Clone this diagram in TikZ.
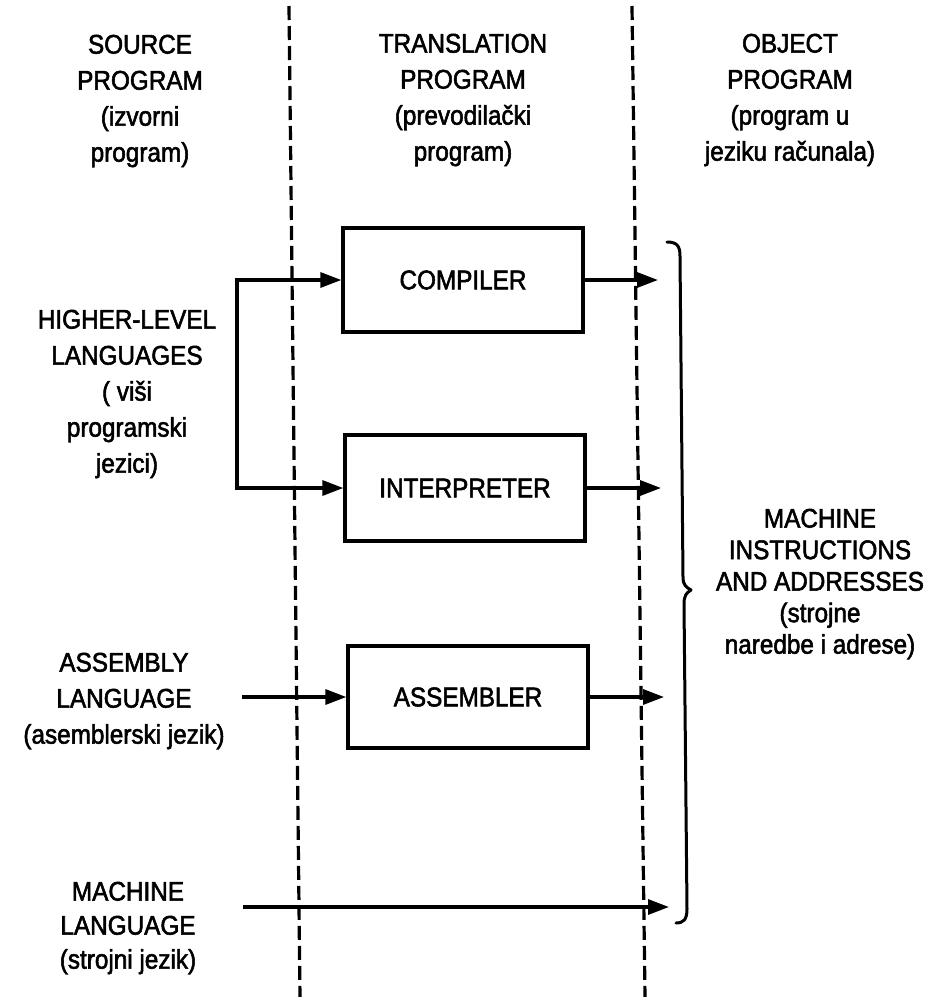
\documentclass[tikz,border=0pt]{standalone}
\usepackage{fontspec}
\setmainfont{Liberation Sans}[FakeStretch=0.9,FakeBold=2]
\usetikzlibrary{arrows.meta}
\begin{document}
\begin{tikzpicture}[x=1pt,y=-1pt,
  lbl/.style={align=center,inner sep=0pt,font=\fontsize{27}{36}\selectfont},
  blbl/.style={align=center,inner sep=0pt,font=\fontsize{27}{34}\selectfont},
  rlbl/.style={align=center,inner sep=0pt,font=\fontsize{27}{31.5}\selectfont},
  box/.style={draw,line width=3.3pt,minimum width=240pt,inner sep=0pt,font=\fontsize{27}{36}\selectfont},
  arr/.style={line width=3.2pt,-{Triangle[length=21pt,width=15pt]}},
  ln/.style={line width=3.2pt},
  sep/.style={line width=3.2pt,dash pattern=on 14pt off 6pt}]
\useasboundingbox (0,0) rectangle (950,997);
% separators
\coordinate (s1a) at (289,6); \coordinate (s1b) at (300,997);
\coordinate (s2a) at (632,6); \coordinate (s2b) at (645,997);
\draw[sep] (s1a) -- (s1b);
\draw[sep] (s2a) -- (s2b);
% headers
\node[lbl] (src) at (140,101) {SOURCE\\PROGRAM\\(izvorni\\program)};
\node[lbl] (trn) at (463,100) {TRANSLATION\\PROGRAM\\(prevodilački\\program)};
\node[lbl] (obj) at (790,100) {OBJECT\\PROGRAM\\(program u\\jeziku računala)};
% left labels
\node[lbl] (hll) at (127,394) {HIGHER-LEVEL\\LANGUAGES\\( viši\\programski\\jezici)};
\node[lbl] (asl) at (124,701) {ASSEMBLY\\LANGUAGE\\(asemblerski jezik)};
\node[blbl] (mcl) at (128,928) {MACHINE\\LANGUAGE\\(strojni jezik)};
% boxes
\node[box,minimum height=104pt] (comp) at (463,280) {COMPILER};
\node[box,minimum height=106pt] (intp) at (465,488) {INTERPRETER};
\node[box,minimum height=102pt] (asmb) at (468,697) {ASSEMBLER};
% branch
\coordinate (bt) at (237,280);
\coordinate (bb) at (237,488);
\draw[ln] (bt) -- (bb);
\draw[arr] ([xshift=-1.6pt]bt) -- (comp.west);
\draw[arr] ([xshift=-1.6pt]bb) -- (intp.west);
\coordinate (ain) at (242,697);
\draw[arr] (ain) -- (asmb.west);
% outputs
\coordinate (o1) at (658,280);
\coordinate (o2) at (661,488);
\coordinate (o3) at (664,697);
\draw[arr] (comp.east) -- (o1);
\draw[arr] (intp.east) -- (o2);
\draw[arr] (asmb.east) -- (o3);
\coordinate (min) at (243,907);
\coordinate (mout) at (669,907);
\draw[arr] (min) -- (mout);
% brace
\draw[line width=3pt,line cap=round,line join=round]
  (667,242) .. controls (677,242) and (680,246) .. (680,256)
  -- (683,577) .. controls (683,585) and (686,587) .. (691,590)
  .. controls (686,593) and (684,596) .. (684,604)
  -- (687,909) .. controls (687,919) and (684,923) .. (676,923);
% right label
\node[rlbl] (mia) at (820,584) {MACHINE\\INSTRUCTIONS\\AND ADDRESSES\\(strojne\\naredbe i adrese)};
\end{tikzpicture}
\end{document}
